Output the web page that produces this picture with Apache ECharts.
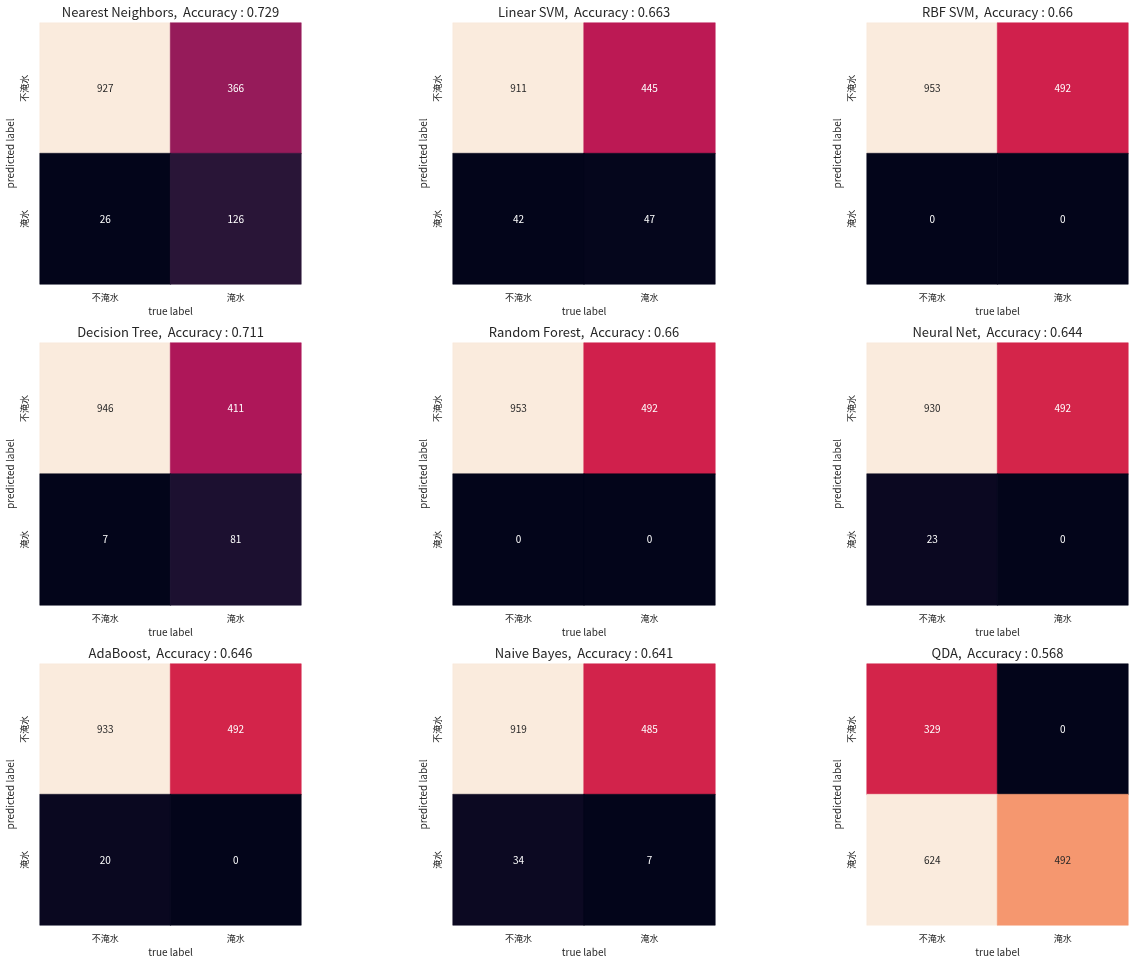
<!DOCTYPE html>
<html>
<head>
<meta charset="utf-8">
<title>confusion matrices</title>
<style>
html,body{margin:0;padding:0;background:#fff;}
#main{width:1135px;height:965px;}
</style>
<script src="https://cdn.jsdelivr.net/npm/echarts@6/dist/echarts.min.js"></script>
</head>
<body>
<div id="main"></div>
<script>
var labels = ['不淹水', '淹水'];
var names = ['Nearest Neighbors', 'Linear SVM', 'RBF SVM', 'Decision Tree', 'Random Forest', 'Neural Net', 'AdaBoost', 'Naive Bayes', 'QDA'];
var accuracy = ['0.729', '0.663', '0.66', '0.711', '0.66', '0.644', '0.646', '0.641', '0.568'];
// [不淹水/不淹水, 不淹水/淹水, 淹水/不淹水, 淹水/淹水] rows are predicted, columns true
var nearestNeighbors = [927, 366, 26, 126];
var linearSvm = [911, 445, 42, 47];
var rbfSvm = [953, 492, 0, 0];
var decisionTree = [946, 411, 7, 81];
var randomForest = [953, 492, 0, 0];
var neuralNet = [930, 492, 23, 0];
var adaBoost = [933, 492, 20, 0];
var naiveBayes = [919, 485, 34, 7];
var qda = [329, 0, 624, 492];
var matrices = [nearestNeighbors, linearSvm, rbfSvm, decisionTree, randomForest, neuralNet, adaBoost, naiveBayes, qda];

var rocket = ['#03051a', '#190f2e', '#35193e', '#521c4b', '#701f57', '#8d1c5a', '#ad1759', '#cb1b4f', '#e13342', '#ec4d40', '#f37651', '#f5966e', '#f6b48f', '#f8d2bb', '#faebdd'];
var colLeft = [40, 453, 867];
var colWidth = [261, 262, 261];
var rowTop = [23, 343, 664];
var rowHeight = [261, 262, 261];
var fontName = '"Noto Sans CJK SC", "Noto Sans", sans-serif';
var textColor = '#262626';

var option = {
  animation: false,
  backgroundColor: '#fff',
  title: [], grid: [], xAxis: [], yAxis: [], series: []
};

matrices.forEach(function (m, i) {
  var col = i % 3;
  var row = Math.floor(i / 3);
  var lo = Math.min.apply(null, m);
  var hi = Math.max.apply(null, m);

  option.title.push({
    text: names[i] + ',  Accuracy : ' + accuracy[i],
    left: colLeft[col] + colWidth[col] / 2,
    top: rowTop[row] - 17,
    padding: 0,
    textAlign: 'center',
    textStyle: {fontFamily: fontName, fontSize: 13, fontWeight: 'normal', color: textColor}
  });
  option.grid.push({left: colLeft[col], top: rowTop[row], width: colWidth[col], height: rowHeight[row]});
  option.xAxis.push({
    gridIndex: i, type: 'category', data: labels,
    name: 'true label', nameLocation: 'middle', nameGap: 22,
    nameTextStyle: {fontFamily: fontName, fontSize: 10, color: textColor},
    axisLine: {show: false}, axisTick: {show: false}, splitLine: {show: false},
    axisLabel: {fontFamily: fontName, fontSize: 9, color: textColor, margin: 9}
  });
  option.yAxis.push({
    gridIndex: i, type: 'category', data: labels, inverse: true,
    name: 'predicted label', nameLocation: 'middle', nameGap: 25,
    nameTextStyle: {fontFamily: fontName, fontSize: 10, color: textColor},
    axisLine: {show: false}, axisTick: {show: false}, splitLine: {show: false},
    axisLabel: {fontFamily: fontName, fontSize: 9, color: textColor, rotate: 90, margin: 11}
  });
  option.series.push({
    type: 'heatmap', xAxisIndex: i, yAxisIndex: i,
    data: m.map(function (v, k) {
      var norm = (v - lo) / (hi - lo);
      var c = echarts.color.lerp(norm, rocket);
      return {
        value: [k % 2, Math.floor(k / 2), v],
        itemStyle: {color: c, borderColor: c, borderWidth: 0.5},
        label: {color: norm > 0.6 ? textColor : '#fff'}
      };
    }),
    label: {
      show: true, fontFamily: fontName, fontSize: 10,
      formatter: function (p) { return p.value[2]; }
    },
    emphasis: {disabled: true}
  });
});

var myChart = echarts.init(document.getElementById('main'));
myChart.setOption(option);
</script>
</body>
</html>
